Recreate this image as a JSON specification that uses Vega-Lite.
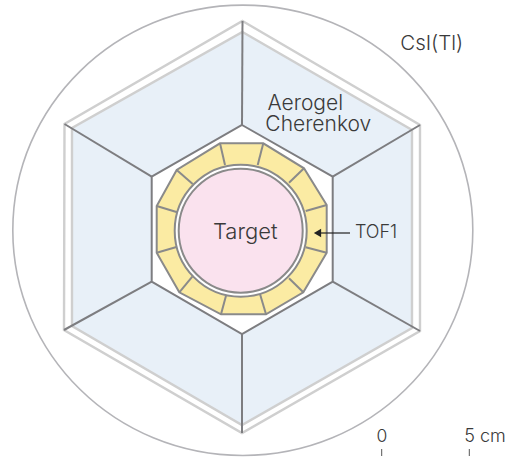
{"$schema":"https://vega.github.io/schema/vega-lite/v6.json","width":507,"height":457,"padding":0,"autosize":{"type":"none"},"background":"#ffffff","config":{"view":{"stroke":null}},
"datasets":{
"ring":[{"name":"outer","x":242.8,"y":230.3}],
"hexblue":[{"x":242.5,"y":32,"o":0},{"x":412,"y":130,"o":1},{"x":412,"y":328,"o":2},{"x":242,"y":425,"o":3},{"x":72,"y":326,"o":4},{"x":72,"y":128,"o":5}],
"hexouter":[{"x":242.5,"y":21,"o":0},{"x":420,"y":125,"o":1},{"x":420,"y":331,"o":2},{"x":242,"y":433,"o":3},{"x":64,"y":330,"o":4},{"x":64.5,"y":124,"o":5}],
"hexinner":[{"x":242,"y":125,"o":0},{"x":332.7,"y":176.7,"o":1},{"x":332.7,"y":281.7,"o":2},{"x":242,"y":334,"o":3},{"x":151.7,"y":281.7,"o":4},{"x":151.7,"y":176.7,"o":5}],
"spokes":[{"s":"a","x":242.5,"y":21,"o":0},{"s":"a","x":242,"y":125,"o":1},{"s":"b","x":420,"y":125,"o":0},{"s":"b","x":332.7,"y":176.7,"o":1},{"s":"c","x":420,"y":331,"o":0},{"s":"c","x":332.7,"y":281.7,"o":1},{"s":"d","x":242,"y":433,"o":0},{"s":"d","x":242,"y":334,"o":1},{"s":"e","x":64,"y":330,"o":0},{"s":"e","x":151.7,"y":281.7,"o":1},{"s":"f","x":64.5,"y":124,"o":0},{"s":"f","x":151.7,"y":176.7,"o":1}],
"tof":[{"x":220,"y":143.3,"o":0},{"x":263.3,"y":143.3,"o":1},{"x":304,"y":168.3,"o":2},{"x":326.7,"y":205,"o":3},{"x":326.7,"y":252.7,"o":4},{"x":303.3,"y":292.3,"o":5},{"x":266,"y":314.3,"o":6},{"x":221,"y":314.3,"o":7},{"x":179.3,"y":292.3,"o":8},{"x":156.7,"y":252.7,"o":9},{"x":156.7,"y":206,"o":10},{"x":176.7,"y":170,"o":11}],
"dividers":[{"s":"a","x":220,"y":143.3,"o":0},{"s":"a","x":225,"y":165,"o":1},{"s":"b","x":263.3,"y":143.3,"o":0},{"s":"b","x":257.7,"y":165,"o":1},{"s":"c","x":304,"y":168.3,"o":0},{"s":"c","x":289,"y":182.7,"o":1},{"s":"d","x":326.7,"y":205,"o":0},{"s":"d","x":305.7,"y":211,"o":1},{"s":"e","x":326.7,"y":252.7,"o":0},{"s":"e","x":305.7,"y":247.3,"o":1},{"s":"f","x":303.3,"y":292.3,"o":0},{"s":"f","x":289,"y":278.3,"o":1},{"s":"g","x":266,"y":314.3,"o":0},{"s":"g","x":260,"y":294,"o":1},{"s":"h","x":221,"y":314.3,"o":0},{"s":"h","x":226,"y":295.7,"o":1},{"s":"i","x":179.3,"y":292.3,"o":0},{"s":"i","x":192.3,"y":276.7,"o":1},{"s":"j","x":156.7,"y":252.7,"o":0},{"s":"j","x":177.3,"y":246.7,"o":1},{"s":"k","x":156.7,"y":206,"o":0},{"s":"k","x":177.3,"y":212.3,"o":1},{"s":"l","x":176.7,"y":170,"o":0},{"s":"l","x":192.7,"y":184,"o":1}],
"labels":[{"t":"CsI(Tl)","x":431.7,"y":43.5,"fs":20.5},{"t":"Aerogel","x":305.3,"y":104,"fs":21},{"t":"Cherenkov","x":318.3,"y":125,"fs":21},{"t":"Target","x":245.2,"y":232,"fs":22},{"t":"TOF1","x":376,"y":233,"fs":18},{"t":"0","x":382,"y":436.5,"fs":17.5},{"t":"5 cm","x":485,"y":436.5,"fs":18}],
"ticks":[{"x":381.7,"y":449,"y2":456},{"x":469.3,"y":449,"y2":456}],
"arrow":[{"x":350,"y":233,"o":0},{"x":318,"y":233,"o":1}],
"head":[{"x":317.5,"y":233}]
},
"encoding":{"x":{"field":"x","type":"quantitative","scale":{"domain":[0,507],"range":[0,507],"nice":false,"zero":false},"axis":null},"y":{"field":"y","type":"quantitative","scale":{"domain":[0,457],"range":[0,457],"nice":false,"zero":false},"axis":null},"order":{"field":"o"}},
"layer":[
{"data":{"name":"ring"},"mark":{"type":"point","shape":"M-1,0A1,0.979,0,1,1,1,0A1,0.979,0,1,1,-1,0Z","filled":false,"size":211600,"stroke":"#b4b4b8","strokeWidth":1.6,"opacity":1}},
{"data":{"name":"hexouter"},"mark":{"type":"line","interpolate":"linear-closed","stroke":"#cfcfcf","strokeWidth":2.4,"fill":"#ffffff"}},
{"data":{"name":"hexblue"},"mark":{"type":"line","interpolate":"linear-closed","stroke":"#cfcfcf","strokeWidth":2.4,"fill":"#e8f0f8"}},
{"data":{"name":"spokes"},"mark":{"type":"line","stroke":"#7d7d80","strokeWidth":2},"encoding":{"detail":{"field":"s"}}},
{"data":{"name":"hexinner"},"mark":{"type":"line","interpolate":"linear-closed","stroke":"#7d7d80","strokeWidth":2,"fill":"#ffffff"}},
{"data":{"name":"tof"},"mark":{"type":"line","interpolate":"linear-closed","stroke":"#8a8a8a","strokeWidth":2,"fill":"#fbeba3"}},
{"data":{"name":"dividers"},"mark":{"type":"line","stroke":"#8a8a8a","strokeWidth":2},"encoding":{"detail":{"field":"s"}}},
{"data":{"values":[{"x":240.7,"y":230.7}]},"mark":{"type":"point","shape":"circle","filled":true,"size":17424,"fill":"#ffffff","stroke":"#8a8a8a","strokeWidth":2,"opacity":1}},
{"data":{"values":[{"x":240.7,"y":230.7}]},"mark":{"type":"point","shape":"circle","filled":true,"size":15376,"fill":"#fae2ee","stroke":"#8a8a8a","strokeWidth":2,"opacity":1}},
{"data":{"name":"arrow"},"mark":{"type":"line","stroke":"#222222","strokeWidth":1.2}},
{"data":{"name":"head"},"mark":{"type":"point","shape":"triangle-left","filled":true,"size":70,"fill":"#222222","opacity":1}},
{"data":{"name":"ticks"},"mark":{"type":"rule","stroke":"#555555","strokeWidth":1},"encoding":{"y2":{"field":"y2"}}},
{"data":{"name":"labels"},"mark":{"type":"text","font":"Inter","fontWeight":300,"color":"#3a3a3a","align":"center","baseline":"middle"},"encoding":{"text":{"field":"t"},"size":{"field":"fs","type":"quantitative","scale":null}}}
]}
